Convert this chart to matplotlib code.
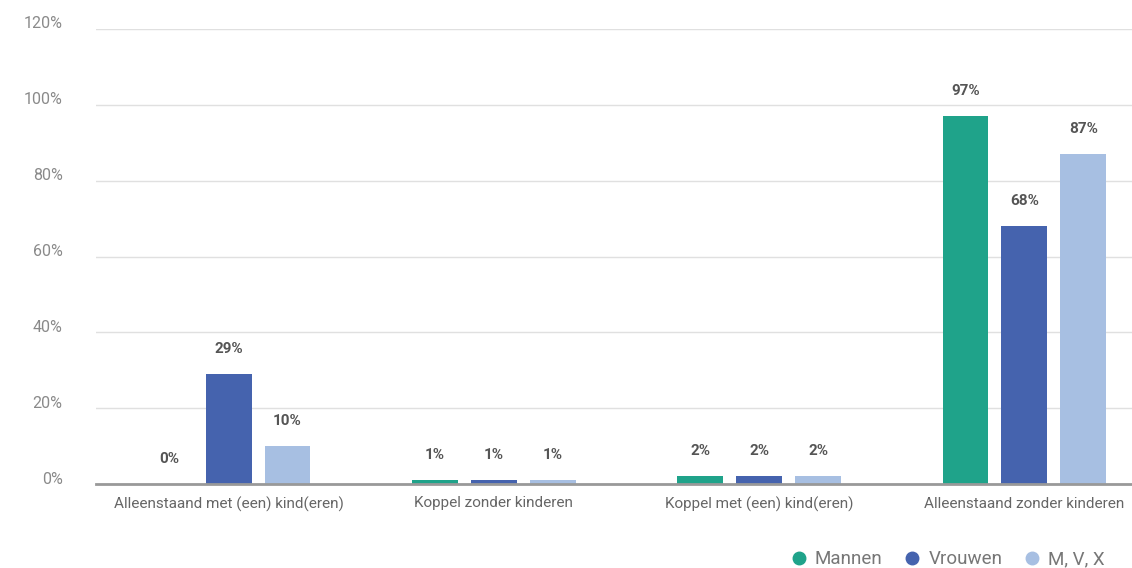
import numpy as np
import matplotlib.pyplot as plt
import matplotlib.transforms as mtransforms
from matplotlib.lines import Line2D

plt.rcParams['font.family'] = ['Roboto', 'DejaVu Sans']

categories = ['Alleenstaand met (een) kind(eren)', 'Koppel zonder kinderen',
              'Koppel met (een) kind(eren)', 'Alleenstaand zonder kinderen']
series = ['Mannen', 'Vrouwen', 'M, V, X']
mannen = [0, 1, 2, 97]
vrouwen = [29, 1, 2, 68]
mvx = [10, 1, 2, 87]
colors = ['#1fa38a', '#4563ae', '#a7bfe2']
yticks = [0, 20, 40, 60, 80, 100, 120]

fig = plt.figure(figsize=(11.32, 5.68), dpi=100)
ax = fig.add_axes([96 / 1132, 1 - 484 / 568, 1061 / 1132, 455 / 568])

x = np.arange(len(categories))
step = 0.222
width = 0.173
for i, (vals, col) in enumerate(zip([mannen, vrouwen, mvx], colors)):
    pos = x + (i - 1) * step
    ax.bar(pos, vals, width=width, color=col, zorder=3)
    for px, v in zip(pos, vals):
        ax.annotate(f'{v}%', (px, v), xytext=(0, 18), textcoords='offset points',
                    ha='center', va='center', fontsize=11, fontweight='bold',
                    color='#555555')

ax.set_xlim(-0.5, 3.5)
ax.set_ylim(0, 120)
ax.set_yticks(yticks)
ax.set_yticklabels([f'{t}%' for t in yticks])
ax.set_xticks(x)
ax.set_xticklabels(categories)
ax.tick_params(axis='y', length=0, pad=24, labelsize=11.5, labelcolor='#8a8a8a')
ax.tick_params(axis='x', length=0, pad=9, labelsize=11, labelcolor='#666666')
shift = mtransforms.ScaledTranslation(0, 6.5 / 100, fig.dpi_scale_trans)
for lab in ax.get_yticklabels():
    lab.set_transform(lab.get_transform() + shift)

ax.grid(axis='y', color='#e0e0e0', linewidth=1, zorder=0)
for s in ['top', 'right', 'left']:
    ax.spines[s].set_visible(False)
ax.spines['bottom'].set_color('#999999')
ax.spines['bottom'].set_linewidth(2)
ax.spines['bottom'].set_zorder(4)

handles = [Line2D([], [], marker='o', linestyle='none', markersize=9,
                  markerfacecolor=c, markeredgecolor=c) for c in colors]
fig.legend(handles, series, loc='lower right', bbox_to_anchor=(0.991, -0.03),
           ncol=3, frameon=False, fontsize=13.5, labelcolor='#777777',
           handlelength=0.8, handletextpad=0.45, columnspacing=1.2)

fig.savefig('out.png', dpi=100)
